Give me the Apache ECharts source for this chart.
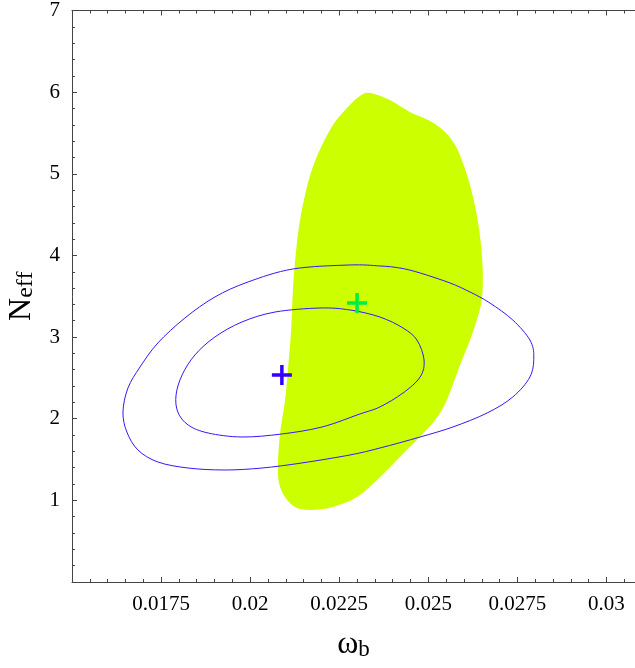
<!DOCTYPE html>
<html>
<head>
<meta charset="utf-8">
<script src="https://cdn.jsdelivr.net/npm/echarts@6/dist/echarts.min.js"></script>
<style>
html,body{margin:0;padding:0;background:#fff;}
#chart{width:635px;height:668px;}
</style>
</head>
<body>
<div id="chart"></div>
<script>
// ---- data ----
const xTickLabels = ['0.0175','0.02','0.0225','0.025','0.0275','0.03'];
const yTickLabels = ['1','2','3','4','5','6','7'];

// green allowed region (boundary)
const greenX = [0.02336,0.02392,0.02448,0.02505,0.02547,0.02575,0.02594,0.02617,0.02636,0.02648,0.02653,0.02650,0.02636,0.02617,0.02589,0.02552,0.02519,0.02476,0.02420,0.02356,0.02300,0.02232,0.02168,0.02126,0.02098,0.02081,0.02078,0.02084,0.02098,0.02106,0.02115,0.02120,0.02129,0.02140,0.02154,0.02173,0.02202,0.02238,0.02280,0.02308];
const greenY = [5.990,5.904,5.757,5.647,5.512,5.353,5.169,4.863,4.495,4.128,3.760,3.454,3.209,2.964,2.658,2.229,1.984,1.776,1.531,1.249,1.041,0.919,0.882,0.919,1.041,1.213,1.458,1.825,2.229,2.597,3.087,3.577,4.067,4.434,4.740,5.047,5.353,5.634,5.843,5.953];

// outer contour
const outerX = [0.02280,0.02364,0.02420,0.02477,0.02561,0.02617,0.02673,0.02737,0.02785,0.02796,0.02785,0.02737,0.02665,0.02569,0.02477,0.02364,0.02280,0.02145,0.02033,0.01929,0.01826,0.01741,0.01685,0.01654,0.01643,0.01657,0.01691,0.01741,0.01817,0.01901,0.01994,0.02120];
const outerY = [3.883,3.871,3.846,3.785,3.662,3.552,3.417,3.209,2.964,2.756,2.511,2.266,2.070,1.899,1.776,1.641,1.556,1.458,1.396,1.372,1.396,1.470,1.617,1.837,2.082,2.376,2.634,2.928,3.234,3.491,3.675,3.834];

// inner contour
const innerX = [0.02196,0.02280,0.02364,0.02429,0.02468,0.02488,0.02477,0.02429,0.02364,0.02308,0.02202,0.02089,0.01977,0.01882,0.01826,0.01797,0.01792,0.01809,0.01845,0.01901,0.01977,0.02070];
const innerY = [3.356,3.332,3.246,3.111,2.964,2.719,2.511,2.315,2.144,2.058,1.899,1.813,1.776,1.825,1.923,2.082,2.291,2.536,2.781,3.001,3.185,3.307];

// best-fit points
const bluePoint = [0.02089, 2.535];
const greenPoint = [0.02300, 3.417];

// ---- chart ----
const chart = echarts.init(document.getElementById('chart'), null, {renderer:'canvas'});
const FONT = '"Liberation Serif", "DejaVu Serif", serif';
const AXC = '#444';

function fmtX(v){
  for (const s of xTickLabels){ if (Math.abs(parseFloat(s)-v) < 1e-7) return s; }
  return '';
}
function fmtY(v){
  for (const s of yTickLabels){ if (Math.abs(parseFloat(s)-v) < 1e-7) return s; }
  return '';
}
// closed Catmull-Rom curve through the pixel positions given by the axes
function closedCurve(pts){
  const n = pts.length;
  let d = 'M' + pts[0][0] + ',' + pts[0][1];
  for (let i = 0; i < n; i++){
    const p0 = pts[(i-1+n)%n], p1 = pts[i], p2 = pts[(i+1)%n], p3 = pts[(i+2)%n];
    const c1x = p1[0] + (p2[0]-p0[0])/6, c1y = p1[1] + (p2[1]-p0[1])/6;
    const c2x = p2[0] - (p3[0]-p1[0])/6, c2y = p2[1] - (p3[1]-p1[1])/6;
    d += 'C' + c1x + ',' + c1y + ',' + c2x + ',' + c2y + ',' + p2[0] + ',' + p2[1];
  }
  return d + 'Z';
}
function polySeries(xs, ys, style, z){
  return {
    type:'custom', z:z, silent:true,
    coordinateSystem:'cartesian2d',
    encode:{x:0,y:1},
    data: xs.map((x,i)=>[x, ys[i]]),
    renderItem: function(params, api){
      if (params.dataIndex !== 0) return null;
      const pts = xs.map((x,i)=>api.coord([x, ys[i]]));
      return {type:'path', shape:{pathData:closedCurve(pts)}, style:style};
    }
  };
}
const plusPath = 'path://M8.25,0h3.5v8.25h8.25v3.5h-8.25v8.25h-3.5v-8.25h-8.25v-3.5h8.25z';

const option = {
  backgroundColor:'#fff',
  animation:false,
  grid:{left:72, top:10.5, right:0, bottom:86, containLabel:false, outerBoundsMode:'none'},
  xAxis:[{
    type:'value', min:0.015, max:0.0308, interval:0.0025,
    position:'bottom',
    axisLine:{show:true, lineStyle:{color:AXC, width:1}},
    axisTick:{show:true, inside:true, length:5, lineStyle:{color:AXC}},
    minorTick:{show:true, splitNumber:5, length:3, lineStyle:{color:AXC}},
    splitLine:{show:false},
    axisLabel:{show:true, margin:12, showMinLabel:false, showMaxLabel:false,
      fontFamily:FONT, fontSize:21, color:'#000', formatter:fmtX},
    name:'{w|ω}{s|b}',
    nameLocation:'middle', nameGap:46,
    nameTextStyle:{rich:{
      w:{fontFamily:FONT, fontSize:32, color:'#000'},
      s:{fontFamily:FONT, fontSize:23, color:'#000', padding:[10,0,0,0]}
    }}
  },{
    type:'value', min:0.015, max:0.0308, interval:0.0025,
    position:'top',
    axisLine:{show:true, lineStyle:{color:AXC, width:1}},
    axisTick:{show:true, inside:true, length:5, lineStyle:{color:AXC}},
    minorTick:{show:true, splitNumber:5, length:3, lineStyle:{color:AXC}},
    splitLine:{show:false},
    axisLabel:{show:false}
  }],
  yAxis:[{
    type:'value', min:0, max:7, interval:1,
    axisLine:{show:true, lineStyle:{color:AXC, width:1}},
    axisTick:{show:true, inside:true, length:5, lineStyle:{color:AXC}},
    minorTick:{show:true, splitNumber:5, length:3, lineStyle:{color:AXC}},
    splitLine:{show:false},
    axisLabel:{show:true, margin:12, showMinLabel:false,
      fontFamily:FONT, fontSize:21, color:'#000', formatter:fmtY},
    name:'{n|N}{s|eff}',
    nameLocation:'middle', nameRotate:90, nameGap:34,
    nameTextStyle:{rich:{
      n:{fontFamily:FONT, fontSize:32, color:'#000'},
      s:{fontFamily:FONT, fontSize:24, color:'#000', padding:[8,0,0,0]}
    }}
  }],
  series:[
    polySeries(greenX, greenY, {fill:'#ccff00', stroke:null}, 1),
    polySeries(outerX, outerY, {fill:'none', stroke:'#3a14ff', lineWidth:1}, 2),
    polySeries(innerX, innerY, {fill:'none', stroke:'#3a14ff', lineWidth:1}, 2),
    {type:'scatter', z:5, symbol:plusPath, symbolSize:20, data:[bluePoint],
      itemStyle:{color:'#3300ff', opacity:1}},
    {type:'scatter', z:5, symbol:plusPath, symbolSize:20, data:[greenPoint],
      itemStyle:{color:'#00ee44', opacity:1}}
  ]
};
chart.setOption(option);
</script>
</body>
</html>
